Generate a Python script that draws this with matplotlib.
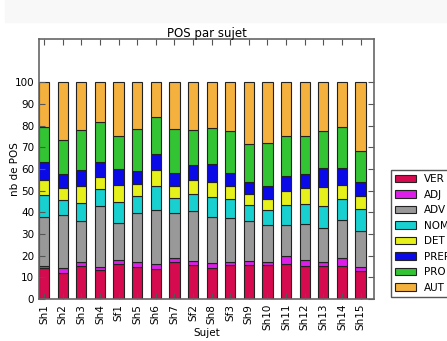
# Répartition des POS par sujet (barres empilées, en %)
import numpy as np
import matplotlib
matplotlib.use("Agg")
import matplotlib.pyplot as plt
from matplotlib.patches import Rectangle

sujets = ["Sh1", "Sh2", "Sh3", "Sh4", "Sf1", "Sh5", "Sh6", "Sh7", "Sf2",
          "Sh8", "Sf3", "Sh9", "Sh10", "Sh11", "Sh12", "Sh13", "Sh14", "Sh15"]

pos = ["VER", "ADJ", "ADV", "NOM", "DET", "PREP", "PRO", "AUT"]

ver  = [14.2, 12.2, 15.4, 13.4, 16.0, 14.9, 13.7, 16.9, 15.5, 14.3, 15.5, 15.5, 15.5, 16.0, 15.1, 15.1, 15.4, 12.8]
adj  = [1.2, 2.1, 1.8, 1.5, 2.2, 2.0, 2.3, 2.2, 2.0, 2.3, 1.7, 2.2, 1.4, 3.7, 2.9, 2.1, 3.4, 2.0]
adv  = [22.3, 24.6, 19.0, 27.9, 16.7, 22.6, 25.2, 20.7, 23.3, 21.1, 20.0, 18.5, 17.1, 14.3, 16.5, 15.4, 17.5, 16.4]
nom  = [10.5, 6.8, 8.3, 8.1, 10.0, 8.2, 10.8, 6.7, 7.8, 9.2, 9.1, 7.0, 7.1, 9.2, 9.3, 10.2, 9.7, 10.2]
det  = [6.7, 5.5, 7.5, 5.6, 7.6, 5.5, 7.5, 5.7, 6.3, 7.1, 6.0, 5.3, 5.2, 6.8, 7.4, 8.7, 6.6, 6.1]
prep = [8.5, 6.6, 7.7, 6.9, 7.7, 5.7, 7.3, 5.8, 6.8, 8.3, 5.9, 5.7, 5.7, 6.9, 6.3, 9.0, 7.9, 6.7]
pro  = [16.1, 15.4, 18.5, 18.4, 14.9, 19.7, 17.4, 20.3, 16.3, 16.8, 19.5, 17.5, 20.0, 18.5, 17.6, 17.2, 18.7, 14.3]
aut  = [20.5, 26.8, 21.8, 18.2, 24.9, 21.4, 15.8, 21.7, 22.0, 20.9, 22.3, 28.3, 28.0, 24.6, 24.9, 22.3, 20.8, 31.5]

couleurs = ["#d60a4e", "#dd1ee8", "#999999", "#18d0d0",
            "#e6f01a", "#0a0ae8", "#33c433", "#f4b13e"]

series = [ver, adj, adv, nom, det, prep, pro, aut]

fig = plt.figure(figsize=(4.47, 3.41), dpi=100)
fig.patches.append(Rectangle((5 / 447, 1 - 22 / 341), 442 / 447, 22 / 341,
                             transform=fig.transFigure, color="#f8f8f8", zorder=0))
ax = fig.add_axes([39 / 447, 42 / 341, 335 / 447, 260 / 341])

ind = np.arange(len(sujets))
width = 0.55
bas = np.zeros(len(sujets))
barres = []
for vals, c in zip(series, couleurs):
    b = ax.bar(ind, vals, width, bottom=bas, align="edge", color=c,
               edgecolor="#222222", linewidth=0.8)
    barres.append(b[0])
    bas += np.array(vals)

ax.set_xlim(0, len(sujets))
ax.set_ylim(0, 120)
ax.set_yticks(range(0, 101, 10))
ax.set_xticks(ind + width / 2)
ax.set_xticklabels(sujets, rotation=90)
ax.tick_params(direction="in", top=True, right=True, labelsize=7.5,
               length=4, color="#555555")
for s in ax.spines.values():
    s.set_color("#666666")
    s.set_linewidth(1.2)

ax.set_title("POS par sujet", fontsize=8.5, pad=1.5)
ax.set_xlabel("Sujet", fontsize=7.5)
ax.set_ylabel("nb de POS", fontsize=7.5)
ax.xaxis.set_label_coords(0.5, -0.11)
ax.yaxis.set_label_coords(-0.058, 0.5)

ax.legend(barres, pos, loc="lower left", bbox_to_anchor=(1.051, 0.008),
          borderaxespad=0, fontsize=7.5, labelspacing=0.53, fancybox=False,
          edgecolor="#555555", framealpha=1)

fig.savefig("out.png", dpi=100)
